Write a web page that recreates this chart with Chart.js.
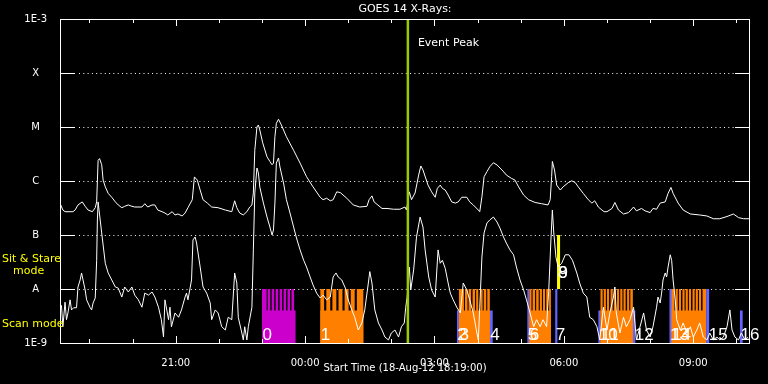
<!DOCTYPE html>
<html>
<head>
<meta charset="utf-8">
<script src="https://cdn.jsdelivr.net/npm/chart.js@4/dist/chart.umd.min.js"></script>
<style>
  html, body { margin: 0; background: #000; }
  canvas { display: block; }
</style>
</head>
<body>
<canvas id="goes" width="768" height="384"></canvas>
<script>
// Tid i minuter efter start (18-Aug-12 18:19:00), flöde i W/m2
const START_CLOCK = 18 * 60 + 19;
const RANGE_MIN = 960;
const EVENT_PEAK = 484;

const yTickValues = [1e-9, 1e-8, 1e-7, 1e-6, 1e-5, 1e-4, 1e-3];
const yTickLabels = ['1E-9', 'A', 'B', 'C', 'M', 'X', '1E-3'];

// GOES 1-8 A (övre kurvan)
const longChannel = [
  [1, 3.6e-7], [4, 2.9e-7], [7, 2.7e-7], [18, 2.7e-7], [21, 2.9e-7], [25, 3.6e-7], [31, 4.1e-7], [35, 3.4e-7],
  [39, 2.9e-7], [45, 2.7e-7], [49, 3.2e-7], [51, 4.1e-7], [53, 2.4e-6], [55, 2.6e-6], [58, 2.0e-6], [60, 1.04e-6],
  [63, 7.8e-7], [67, 5.9e-7], [72, 5.0e-7], [77, 4.1e-7], [81, 3.6e-7], [86, 3.2e-7], [90, 3.4e-7], [95, 3.6e-7],
  [100, 3.4e-7], [104, 3.3e-7], [114, 3.3e-7], [118, 3.8e-7], [122, 3.3e-7], [128, 3.6e-7], [132, 3.6e-7], [136, 2.9e-7],
  [142, 2.7e-7], [146, 2.55e-7], [150, 2.35e-7], [156, 2.7e-7], [160, 2.35e-7], [164, 2.45e-7], [170, 2.25e-7], [174, 2.55e-7],
  [178, 3.2e-7], [184, 4.5e-7], [187, 1.19e-6], [191, 1.04e-6], [195, 6.8e-7], [199, 4.5e-7], [205, 3.9e-7], [211, 3.3e-7],
  [220, 3.2e-7], [230, 2.9e-7], [239, 2.7e-7], [243, 4.3e-7], [246, 3.2e-7], [250, 2.55e-7], [255, 2.35e-7], [260, 2.7e-7],
  [264, 3.3e-7], [267, 3.6e-7], [269, 6.0e-7], [271, 3.7e-6], [274, 1.0e-5], [276, 1.09e-5], [278, 8.8e-6], [282, 5.1e-6],
  [288, 2.8e-6], [292, 2.3e-6], [295, 2.0e-6], [297, 2.15e-6], [299, 6.6e-6], [301, 1.17e-5], [304, 1.39e-5], [308, 1.09e-5],
  [315, 6.6e-6], [325, 3.7e-6], [334, 2.15e-6], [343, 1.2e-6], [352, 7.8e-7], [362, 5.0e-7], [366, 4.5e-7], [371, 4.8e-7],
  [376, 4.3e-7], [380, 4.5e-7], [385, 6.3e-7], [390, 6.1e-7], [399, 4.8e-7], [408, 3.6e-7], [417, 3.3e-7], [427, 3.4e-7],
  [430, 4.5e-7], [434, 5.3e-7], [437, 4.1e-7], [441, 3.7e-7], [448, 3.1e-7], [455, 3.1e-7], [464, 3.0e-7], [473, 3.0e-7],
  [480, 3.3e-7], [482, 2.9e-7], [486, 6.3e-7], [489, 4.5e-7], [494, 6.0e-7], [499, 1.29e-6], [502, 1.9e-6], [505, 1.6e-6],
  [512, 8.4e-7], [517, 6.3e-7], [522, 5.0e-7], [525, 7.3e-7], [529, 8.4e-7], [532, 7.3e-7], [536, 6.8e-7], [540, 5.5e-7],
  [545, 4.1e-7], [550, 3.9e-7], [554, 4.1e-7], [559, 5.0e-7], [566, 5.0e-7], [570, 4.1e-7], [575, 3.6e-7], [582, 2.9e-7],
  [584, 2.7e-7], [587, 5.1e-7], [590, 1.2e-6], [594, 1.49e-6], [598, 1.84e-6], [603, 2.18e-6], [608, 1.98e-6], [615, 1.6e-6],
  [621, 1.29e-6], [628, 1.12e-6], [633, 1.04e-6], [638, 7.8e-7], [645, 5.5e-7], [652, 4.5e-7], [661, 4.0e-7], [670, 3.8e-7],
  [679, 3.6e-7], [682, 4.5e-7], [684, 1.2e-6], [685, 2.3e-6], [688, 1.6e-6], [691, 8.4e-7], [696, 6.8e-7], [700, 7.8e-7],
  [707, 9.3e-7], [712, 1.01e-6], [717, 9.3e-7], [721, 7.8e-7], [728, 5.9e-7], [735, 4.5e-7], [740, 3.9e-7], [744, 4.3e-7],
  [749, 3.3e-7], [754, 2.9e-7], [757, 2.7e-7], [761, 2.7e-7], [768, 3.1e-7], [772, 4.0e-7], [777, 2.9e-7], [784, 2.45e-7],
  [791, 2.6e-7], [798, 3.3e-7], [802, 2.8e-7], [809, 3.1e-7], [814, 2.8e-7], [821, 2.6e-7], [825, 3.1e-7], [830, 3.0e-7],
  [835, 3.9e-7], [842, 4.1e-7], [846, 5.9e-7], [850, 7.6e-7], [853, 5.9e-7], [860, 3.9e-7], [867, 2.9e-7], [877, 2.45e-7],
  [890, 2.35e-7], [900, 2.25e-7], [909, 2.0e-7], [918, 2.0e-7], [928, 2.2e-7], [937, 2.45e-7], [944, 2.1e-7], [951, 2.0e-7],
  [959, 2.0e-7]
];

// GOES 0.5-4 A (undre kurvan)
const shortChannel = [
  [2, 5.0e-9], [4, 2.0e-9], [7, 5.7e-9], [9, 2.7e-9], [11, 3.6e-9], [14, 6.3e-9], [16, 4.1e-9], [19, 4.5e-9],
  [23, 4.5e-9], [25, 1.09e-8], [28, 1.47e-8], [30, 1.98e-8], [32, 1.47e-8], [35, 9.6e-9], [37, 6.3e-9], [42, 4.5e-9],
  [44, 4.1e-9], [46, 5.5e-9], [49, 6.8e-9], [51, 3.4e-8], [52, 1.9e-7], [53, 4.1e-7], [58, 1.09e-7], [63, 3.0e-8],
  [67, 1.98e-8], [72, 1.47e-8], [77, 1.09e-8], [81, 1.04e-8], [86, 7.1e-9], [90, 1.09e-8], [95, 8.8e-9], [100, 1.09e-8],
  [104, 7.7e-9], [109, 6.3e-9], [114, 4.6e-9], [118, 8.4e-9], [123, 7.7e-9], [128, 8.8e-9], [132, 7.1e-9], [137, 4.6e-9],
  [141, 2.7e-9], [144, 1.3e-9], [146, 6.3e-9], [151, 2.7e-9], [153, 4.6e-9], [155, 2.0e-9], [160, 3.6e-9], [165, 3.0e-9],
  [169, 4.1e-9], [174, 7.1e-9], [176, 8.4e-9], [178, 6.3e-9], [183, 1.47e-8], [185, 8.1e-8], [188, 9.2e-8], [190, 7.1e-8],
  [195, 2.55e-8], [199, 1.09e-8], [204, 8.4e-9], [209, 5.5e-9], [211, 2.7e-9], [216, 4.1e-9], [220, 3.6e-9], [225, 2.0e-9],
  [230, 1.74e-9], [234, 3.0e-9], [239, 2.7e-9], [243, 1.98e-8], [246, 1.29e-8], [248, 3.0e-9], [253, 1.53e-9], [255, 1.14e-9],
  [257, 2.0e-9], [260, 1.14e-9], [262, 2.0e-9], [267, 4.6e-9], [269, 5.3e-8], [271, 6.0e-7], [274, 1.74e-6], [276, 1.41e-6],
  [278, 7.7e-7], [283, 3.9e-7], [288, 2.15e-7], [292, 1.41e-7], [295, 1.0e-7], [297, 1.24e-7], [299, 3.9e-7], [301, 2.15e-6],
  [304, 2.67e-6], [306, 1.82e-6], [311, 9.2e-7], [315, 4.5e-7], [320, 2.55e-7], [325, 1.41e-7], [329, 8.8e-8], [334, 5.3e-8],
  [339, 3.4e-8], [343, 2.55e-8], [348, 1.67e-8], [352, 1.19e-8], [357, 8.4e-9], [362, 6.8e-9], [366, 7.7e-9], [371, 6.3e-9],
  [376, 7.1e-9], [380, 1.67e-8], [384, 1.98e-8], [387, 1.67e-8], [392, 1.47e-8], [397, 1.04e-8], [401, 6.3e-9], [406, 4.1e-9],
  [410, 3.0e-9], [415, 1.74e-9], [420, 2.35e-9], [424, 4.1e-9], [429, 1.29e-8], [431, 2.1e-8], [434, 1.29e-8], [438, 4.1e-9],
  [443, 2.35e-9], [448, 1.74e-9], [452, 1.29e-9], [457, 1.14e-9], [461, 1.53e-9], [466, 1.74e-9], [471, 1.29e-9], [475, 2.0e-9],
  [479, 2.35e-9], [481, 4.6e-9], [483, 7.1e-9], [486, 2.55e-8], [488, 9.6e-9], [492, 2.25e-8], [496, 9.2e-8], [501, 2.15e-7],
  [505, 1.41e-7], [508, 5.3e-8], [513, 1.67e-8], [517, 9.6e-9], [522, 7.1e-9], [526, 5.3e-8], [529, 3.0e-8], [532, 3.4e-8],
  [536, 2.4e-8], [540, 1.29e-8], [543, 8.4e-9], [547, 6.3e-9], [552, 4.6e-9], [557, 3.6e-9], [561, 1.29e-8], [566, 9.6e-9],
  [570, 6.3e-9], [575, 3.6e-9], [580, 1.53e-9], [582, 1.14e-9], [584, 4.6e-9], [587, 3.9e-8], [590, 1.09e-7], [594, 1.67e-7],
  [598, 1.9e-7], [603, 2.15e-7], [608, 1.74e-7], [612, 1.35e-7], [617, 9.2e-8], [621, 7.1e-8], [626, 5.3e-8], [631, 4.3e-8],
  [635, 2.55e-8], [640, 1.47e-8], [645, 9.6e-9], [649, 6.3e-9], [654, 3.6e-9], [659, 2.0e-9], [663, 2.7e-9], [668, 2.0e-9],
  [672, 2.7e-9], [677, 2.0e-9], [680, 9.6e-9], [683, 8.1e-8], [685, 2.9e-7], [687, 1.09e-7], [690, 3.9e-8], [693, 2.55e-8],
  [698, 3.0e-8], [703, 4.3e-8], [708, 4.3e-8], [713, 3.4e-8], [719, 1.98e-8], [723, 1.29e-8], [728, 8.4e-9], [733, 7.1e-9],
  [737, 3.0e-9], [742, 2.7e-9], [747, 2.0e-9], [751, 1.14e-9], [756, 4.6e-9], [761, 1.74e-9], [765, 3.6e-9], [770, 7.1e-9],
  [772, 1.09e-8], [774, 3.6e-9], [779, 1.53e-9], [784, 3.0e-9], [788, 2.0e-9], [793, 2.7e-9], [798, 4.6e-9], [802, 1.14e-9],
  [807, 2.0e-9], [812, 3.6e-9], [816, 1.74e-9], [821, 1.29e-9], [825, 2.0e-9], [830, 4.6e-9], [832, 7.1e-9], [835, 5.5e-9],
  [837, 8.4e-9], [839, 1.47e-8], [842, 1.98e-8], [844, 1.67e-8], [846, 2.55e-8], [849, 4.3e-8], [851, 3.4e-8], [853, 1.47e-8],
  [856, 6.3e-9], [858, 2.7e-9], [863, 1.74e-9], [867, 2.35e-9], [872, 1.53e-9], [877, 2.0e-9], [881, 1.29e-9], [886, 1.74e-9],
  [890, 2.35e-9], [895, 1.29e-9], [900, 1.14e-9], [904, 1.53e-9], [909, 1.14e-9], [914, 1.29e-9], [918, 1.14e-9], [923, 1.29e-9],
  [928, 2.0e-9], [932, 4.1e-9], [935, 1.74e-9], [939, 1.29e-9], [944, 1.14e-9], [948, 1.53e-9], [953, 1.14e-9], [957, 1.29e-9]
];

// Observationer: [start, slut] i minuter
const BASE = 1e-9;
const SCAN_TOP = 4e-9;   // scan mode
const STARE_TOP = 1e-8;  // sit & stare
const STARE_HIGH = 1e-7;

const magentaScan = [[281, 328]];
const magentaStare = [
  [281, 287.5], [289, 292.5], [294.5, 298], [300, 303.5], [305.5, 309], [311, 314.5], [316.5, 320], [322, 326]
];
const orangeScan = [[362, 422], [555, 598], [653, 683], [752, 797], [851, 899]];
const orangeStare = [
  [362, 367.5], [370.5, 376], [379, 384.5], [387.5, 393], [396, 401.5], [404.5, 410], [413, 422],
  [555, 562], [563.5, 567], [568.5, 572], [574, 577.5], [579, 582], [585, 588], [589.5, 593], [594.5, 598],
  [653, 656], [657.5, 661], [662.5, 666], [667.5, 670.5], [672, 675], [676.5, 679], [680.5, 683],
  [752, 755], [756.5, 759.5], [761, 764], [766, 769], [770.5, 773.5], [775, 778], [779.5, 782.5], [784, 787], [789, 792], [793.5, 797],
  [851, 855], [856.5, 859.5], [861, 864], [866, 869], [870.5, 873.5], [875, 878], [880, 883], [884.5, 887.5], [889, 892], [894, 899]
];
const blueScan = [[552, 555], [598, 602], [749, 752], [797, 800.5], [946, 950]];
const blueStare = [[650, 653], [689, 692], [848, 851.5], [899, 903.5]];
const yellowStare = [[691.5, 696]];

// Studienummer och starttid
const studyStart = [281, 362, 552, 555, 598, 650, 653, 689, 692, 693, 749, 752, 799, 848, 851, 902, 946];
const raisedStudies = [8, 9];

// Rektanglar som en polylinje längs basen, fylls ned till basen
function blocks(intervals, low, top) {
  const pts = [];
  intervals.forEach(([s, e]) => {
    pts.push({ x: s, y: low }, { x: s, y: top }, { x: e, y: top }, { x: e, y: low });
  });
  return pts;
}

function toPoints(series) {
  return series.map(([t, f]) => ({ x: t, y: f }));
}

function clockLabel(m) {
  const c = (START_CLOCK + m) % 1440;
  return String(Math.floor(c / 60)).padStart(2, '0') + ':' + String(c % 60).padStart(2, '0');
}

const hourMarks = [];
for (let m = 60 - 19; m <= RANGE_MIN; m += 60) hourMarks.push(m);

function blockSet(intervals, low, top, color) {
  return {
    type: 'line',
    data: blocks(intervals, low, top),
    borderColor: 'transparent',
    borderWidth: 0,
    backgroundColor: color,
    pointRadius: 0,
    fill: { value: low },
    order: 5
  };
}

const decor = {
  id: 'decor',
  beforeDatasetsDraw(chart) {
    const { ctx, chartArea: a, scales: { y } } = chart;
    ctx.save();
    ctx.strokeStyle = '#ffffff';
    ctx.lineWidth = 1;
    yTickValues.slice(1, -1).forEach(v => {
      const py = Math.round(y.getPixelForValue(v)) + 0.5;
      ctx.setLineDash([]);
      ctx.beginPath();
      ctx.moveTo(a.left, py); ctx.lineTo(a.left + 15, py);
      ctx.moveTo(a.right - 15, py); ctx.lineTo(a.right, py);
      ctx.stroke();
      ctx.setLineDash([1, 3.3]);
      ctx.beginPath();
      ctx.moveTo(a.left + 19, py); ctx.lineTo(a.right - 15, py);
      ctx.stroke();
    });
    ctx.restore();
  },
  afterDatasetsDraw(chart) {
    const { ctx, chartArea: a, scales: { x } } = chart;
    ctx.save();
    ctx.strokeStyle = '#ffffff';
    ctx.lineWidth = 1;
    ctx.strokeRect(a.left + 0.5, a.top + 0.5, a.right - a.left - 1, a.bottom - a.top);
    // tickmarkeringar inåt, upptill och nedtill
    ctx.beginPath();
    hourMarks.forEach(m => {
      const px = Math.round(x.getPixelForValue(m)) + 0.5;
      const major = (START_CLOCK + m) % 180 === 0;
      const len = major ? 7 : 4;
      ctx.moveTo(px, a.top); ctx.lineTo(px, a.top + len);
      ctx.moveTo(px, a.bottom); ctx.lineTo(px, a.bottom - len);
    });
    ctx.stroke();

    ctx.fillStyle = '#ffffff';
    ctx.font = '11px "DejaVu Sans"';
    ctx.textBaseline = 'middle';
    ctx.textAlign = 'left';
    ctx.fillText('Event Peak', x.getPixelForValue(EVENT_PEAK) + 10, a.top + 24);

    ctx.fillStyle = '#ffff00';
    ctx.fillText('Sit & Stare', 2, 259);
    ctx.fillText('mode', 13, 271);
    ctx.fillText('Scan mode', 2, 324);

    ctx.fillStyle = '#ffffff';
    ctx.font = '17px "Liberation Sans"';
    ctx.textBaseline = 'alphabetic';
    studyStart.forEach((t, i) => {
      const by = raisedStudies.includes(i) ? 278 : 340;
      ctx.fillText(String(i), x.getPixelForValue(t) + 0.5, by);
    });
    ctx.restore();
  }
};

Chart.defaults.font.family = '"DejaVu Sans", sans-serif';
Chart.defaults.color = '#ffffff';

new Chart(document.getElementById('goes'), {
  type: 'line',
  data: {
    datasets: [
      {
        data: [{ x: EVENT_PEAK, y: 1e-9 }, { x: EVENT_PEAK, y: 1e-3 }],
        borderColor: '#99cc00',
        borderWidth: 2.5,
        pointRadius: 0,
        order: 0
      },
      {
        data: toPoints(longChannel),
        borderColor: '#ffffff',
        borderWidth: 1,
        pointRadius: 0,
        order: 1
      },
      {
        data: toPoints(shortChannel),
        borderColor: '#ffffff',
        borderWidth: 1,
        pointRadius: 0,
        order: 1
      },
      blockSet(magentaScan, BASE, SCAN_TOP, '#cc00cc'),
      blockSet(magentaStare, BASE, STARE_TOP, '#cc00cc'),
      blockSet(orangeScan, BASE, SCAN_TOP, '#ff8000'),
      blockSet(orangeStare, BASE, STARE_TOP, '#ff8000'),
      blockSet(blueScan, BASE, SCAN_TOP, '#6464ff'),
      blockSet(blueStare, BASE, STARE_TOP, '#6464ff'),
      blockSet(yellowStare, STARE_TOP, STARE_HIGH, '#ffff00')
    ]
  },
  options: {
    responsive: false,
    devicePixelRatio: 1,
    animation: false,
    layout: { padding: { right: 18 } },
    plugins: {
      legend: { display: false },
      tooltip: { enabled: false },
      title: {
        display: true,
        text: 'GOES 14 X-Rays:',
        color: '#ffffff',
        fullSize: false,
        font: { size: 11, weight: 'normal' },
        padding: { top: 2.4, bottom: 3.4 }
      }
    },
    scales: {
      x: {
        type: 'linear',
        min: 0,
        max: RANGE_MIN,
        grid: { display: false },
        border: { display: false },
        afterBuildTicks: scale => { scale.ticks = hourMarks.map(v => ({ value: v })); },
        afterFit: scale => { scale.height = 41; },
        ticks: {
          autoSkip: false,
          maxRotation: 0,
          padding: 6,
          color: '#ffffff',
          font: { size: 10 },
          callback: v => ((START_CLOCK + v) % 180 === 0 ? clockLabel(v) : '')
        },
        title: {
          display: true,
          text: 'Start Time (18-Aug-12 18:19:00)',
          color: '#ffffff',
          font: { size: 10 },
          padding: { top: 0, bottom: 9.5 }
        }
      },
      y: {
        type: 'logarithmic',
        min: 1e-9,
        max: 1e-3,
        grid: { display: false },
        border: { display: false },
        afterBuildTicks: scale => { scale.ticks = yTickValues.map(v => ({ value: v })); },
        afterFit: scale => { scale.width = 60; },
        ticks: {
          crossAlign: 'center',
          padding: 5,
          color: '#ffffff',
          font: { size: 10 },
          callback: (v, i) => yTickLabels[i]
        }
      }
    }
  },
  plugins: [decor]
});
</script>
</body>
</html>
